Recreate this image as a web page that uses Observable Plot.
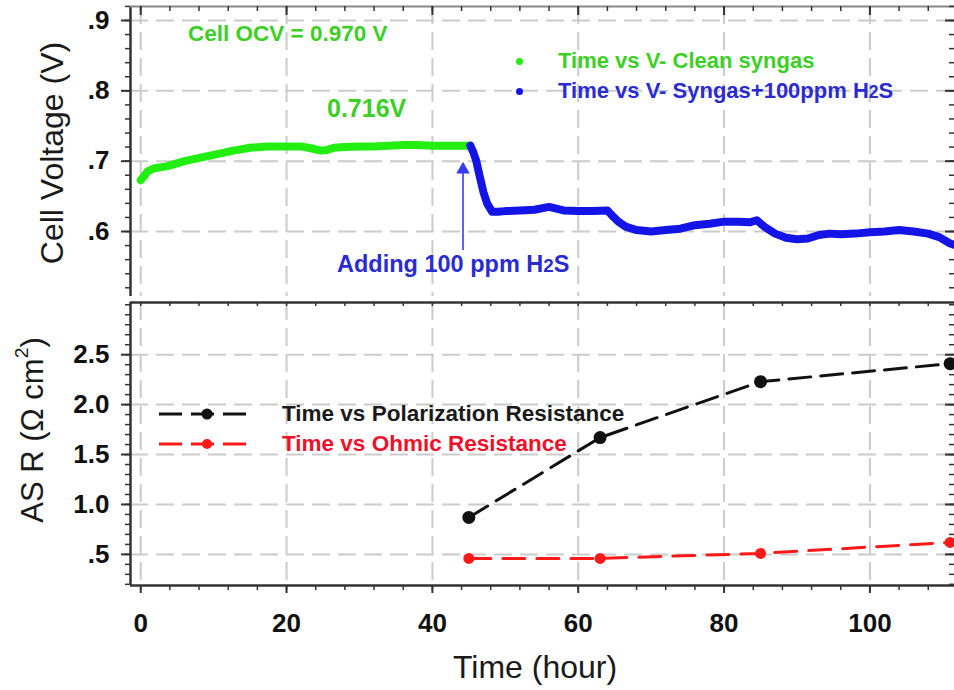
<!DOCTYPE html>
<html>
<head>
<meta charset="utf-8">
<script src="https://cdn.jsdelivr.net/npm/d3@7"></script>
<script src="https://cdn.jsdelivr.net/npm/@observablehq/plot@0.6"></script>
<style>
  html, body { margin: 0; padding: 0; background: #fff; }
  #wrap { position: relative; width: 954px; height: 690px; overflow: hidden; font-family: "Liberation Sans", Arial, sans-serif; }
  #topPanel, #botPanel { position: absolute; left: 0; }
  #topPanel { top: 0; }
  #botPanel { top: 300px; }
  .lbl { position: absolute; white-space: nowrap; line-height: 1; }
  .ann { font-weight: bold; font-size: 22px; transform: translateY(-50%); }
  .axl { font-size: 31px; color: #1a1a1a; transform: translate(-50%, -50%) rotate(-90deg); }
  .sub { font-size: 0.8em; }
  svg.leg { position: absolute; overflow: visible; }
</style>
</head>
<body>
<div id="wrap">
  <div id="topPanel"></div>
  <div id="botPanel"></div>
</div>
<script>
// ---------- Data ----------
const h2sTime = 44.2; // time when 100 ppm H2S was added (hour)

// Clean syngas (time in hours, cell voltage in V)
const cleanTime = [0, 0.5, 0.9, 1.9, 3.7, 6, 8.2, 10.5, 12.7, 15, 17.4, 19.5, 21.9, 23.5, 24.7, 25.6, 26.5, 28, 30, 32, 34, 36, 38, 40, 42, 44, 45.2];
const cleanV    = [0.673, 0.679, 0.685, 0.690, 0.693, 0.700, 0.705, 0.710, 0.715, 0.719, 0.721, 0.721, 0.721, 0.718, 0.715, 0.716, 0.719, 0.720, 0.721, 0.721, 0.722, 0.723, 0.723, 0.722, 0.722, 0.722, 0.722];

// Syngas + 100 ppm H2S
const h2sTimeSeries = [45.2, 45.6, 46.0, 46.5, 47.0, 47.5, 48.2, 49, 50, 52, 54, 56, 58, 60, 62, 64, 64.8, 65.5, 66.5, 68, 70, 72, 74, 76, 78, 80, 82, 83.5, 84.5, 85.5, 87, 88.5, 90, 91.5, 93, 94.5, 96, 98, 100, 102, 104, 106, 108, 109.5, 111, 111.6];
const h2sV          = [0.722, 0.713, 0.701, 0.678, 0.656, 0.640, 0.628, 0.628, 0.629, 0.630, 0.631, 0.635, 0.630, 0.629, 0.629, 0.630, 0.621, 0.614, 0.607, 0.602, 0.600, 0.602, 0.604, 0.609, 0.611, 0.614, 0.614, 0.613, 0.616, 0.607, 0.597, 0.591, 0.589, 0.590, 0.595, 0.597, 0.596, 0.597, 0.599, 0.600, 0.602, 0.600, 0.597, 0.592, 0.583, 0.581];

// Area specific resistance (ohm cm2)
const resTime = [45, 63, 85, 111];
const polR    = [0.87, 1.67, 2.23, 2.41];
const ohmR    = [0.46, 0.46, 0.51, 0.62];

// Tick values
const xMajor = [0, 20, 40, 60, 80, 100];
const xMinor = d3.range(0, 112, 4);
const vMajor = [0.6, 0.7, 0.8, 0.9];
const vMinor = d3.range(0.52, 0.921, 0.02);
const rMajor = [0.5, 1.0, 1.5, 2.0, 2.5];
const rMinor = d3.range(0.2, 3.01, 0.1);

// ---------- Build tables ----------
const cleanData = cleanTime.map((t, i) => ({t, v: cleanV[i]}));
const h2sData = h2sTimeSeries.map((t, i) => ({t, v: h2sV[i]}));
const polData = resTime.map((t, i) => ({t, r: polR[i]}));
const ohmData = resTime.map((t, i) => ({t, r: ohmR[i]}));

const fmt = d => d.toFixed(1).replace(/^0/, "");
const xDom = [-1.4, 111.6];
const vDom = [0.5076, 0.9199];
const rDom = [0.1884, 3.0226];

const W = 954, ML = 130, MR = 0;
const plotW = W - ML - MR;
const GREEN = "#22ee11", BLUE = "#1414e6", RED = "#ff1a1a";
const gridOpt = {stroke: "#cbcbcb", strokeOpacity: 1, strokeWidth: 2, strokeDasharray: "18,8"};
const axisStyle = {fontFamily: "'Liberation Sans', Arial, sans-serif", fontSize: "26px", fontWeight: "bold", color: "#111", background: "transparent", overflow: "visible"};

// ---------- Top panel ----------
const topH = 300, topMT = 6, topMB = 4;
const topPlotH = topH - topMT - topMB;
const topChart = Plot.plot({
  width: W, height: topH,
  marginTop: topMT, marginBottom: topMB, marginLeft: ML, marginRight: MR,
  x: {domain: xDom, axis: null},
  y: {domain: vDom},
  style: axisStyle,
  marks: [
    Plot.gridX(xMajor, gridOpt),
    Plot.gridY(vMajor, gridOpt),
    Plot.ruleX([xDom[0]], {stroke: "#333", strokeWidth: 2.5}),
    Plot.ruleY([vDom[1]], {stroke: "#888", strokeWidth: 2}),
    Plot.axisY({ticks: vMajor, tickSize: 9, tickPadding: 12, tickFormat: fmt, stroke: "#333", strokeWidth: 2, label: null}),
    Plot.axisY({ticks: vMinor, tickSize: 5, fill: "none", stroke: "#333", strokeWidth: 1.5, label: null}),
    Plot.tickX(xMajor, {x: d => d, insetBottom: topPlotH - 9, stroke: "#333", strokeWidth: 2}),
    Plot.tickX(xMinor, {x: d => d, insetBottom: topPlotH - 5, stroke: "#333", strokeWidth: 1.5}),
    Plot.tickY(vMajor, {y: d => d, insetLeft: plotW - 9, stroke: "#333", strokeWidth: 2}),
    Plot.tickY(vMinor, {y: d => d, insetLeft: plotW - 5, stroke: "#333", strokeWidth: 1.5}),
    Plot.line(cleanData, {x: "t", y: "v", stroke: GREEN, strokeWidth: 8, strokeLinejoin: "round", strokeLinecap: "round"}),
    Plot.line(h2sData, {x: "t", y: "v", stroke: BLUE, strokeWidth: 8, strokeLinejoin: "round", strokeLinecap: "round"}),
    Plot.ruleX([h2sTime], {y1: 0.573, y2: 0.690, stroke: "#3a3af0", strokeWidth: 1.6}),
    Plot.dot([h2sTime], {x: d => d, y: 0.688, symbol: "triangle", r: 5, fill: "#3a3af0", stroke: "none"})
  ]
});
document.getElementById("topPanel").appendChild(topChart);

// ---------- Bottom panel ----------
const botH = 390, botMT = 2, botMB = 105;
const botPlotH = botH - botMT - botMB;
const botChart = Plot.plot({
  width: W, height: botH,
  marginTop: botMT, marginBottom: botMB, marginLeft: ML, marginRight: MR,
  x: {domain: xDom},
  y: {domain: rDom},
  style: axisStyle,
  marks: [
    Plot.gridX(xMajor, gridOpt),
    Plot.gridY(rMajor, gridOpt),
    Plot.ruleX([xDom[0]], {stroke: "#333", strokeWidth: 2.5}),
    Plot.ruleY([rDom[0]], {stroke: "#333", strokeWidth: 2.5}),
    Plot.ruleY([rDom[1]], {stroke: "#333", strokeWidth: 2.5}),
    Plot.axisY({ticks: rMajor, tickSize: 9, tickPadding: 12, tickFormat: fmt, stroke: "#333", strokeWidth: 2, label: null}),
    Plot.axisY({ticks: rMinor, tickSize: 5, fill: "none", stroke: "#333", strokeWidth: 1.5, label: null}),
    Plot.axisX({ticks: xMajor, tickSize: 8, tickPadding: 20, stroke: "#333", strokeWidth: 2, label: null}),
    Plot.axisX({ticks: xMinor, tickSize: 5, fill: "none", stroke: "#333", strokeWidth: 1.5, label: null}),
    Plot.tickX(xMinor, {x: d => d, insetBottom: botPlotH - 4, stroke: "#333", strokeWidth: 1.5}),
    Plot.tickY(rMajor, {y: d => d, insetLeft: plotW - 9, stroke: "#333", strokeWidth: 2}),
    Plot.tickY(rMinor, {y: d => d, insetLeft: plotW - 5, stroke: "#333", strokeWidth: 1.5}),
    Plot.line(polData, {x: "t", y: "r", stroke: "#111", strokeWidth: 3, strokeDasharray: "22,10"}),
    Plot.dot(polData, {x: "t", y: "r", r: 6.5, fill: "#111", stroke: "none"}),
    Plot.line(ohmData, {x: "t", y: "r", stroke: RED, strokeWidth: 3, strokeDasharray: "22,12"}),
    Plot.dot(ohmData, {x: "t", y: "r", r: 5.5, fill: RED, stroke: "none"})
  ]
});
document.getElementById("botPanel").appendChild(botChart);

// ---------- Text, legends and axis titles ----------
const wrap = document.getElementById("wrap");
function addLabel(html, cls, css) {
  const d = document.createElement("div");
  d.className = "lbl " + cls;
  d.innerHTML = html;
  Object.assign(d.style, css);
  wrap.appendChild(d);
  return d;
}
function addSvg(inner, css) {
  const ns = "http://www.w3.org/2000/svg";
  const s = document.createElementNS(ns, "svg");
  s.setAttribute("class", "leg");
  s.setAttribute("width", css.width);
  s.setAttribute("height", css.height);
  s.style.left = css.left + "px";
  s.style.top = css.top + "px";
  s.innerHTML = inner;
  wrap.appendChild(s);
}

// axis titles
addLabel("Cell Voltage (V)", "axl", {left: "52px", top: "153px", fontSize: "32px"});
addLabel("AS R (&Omega; cm<sup style='font-size:0.62em;vertical-align:0.75em;line-height:0'>2</sup>)", "axl", {left: "32px", top: "430px"});
addLabel("Time (hour)", "", {left: "535px", top: "667px", fontSize: "32px", color: "#1a1a1a", transform: "translate(-50%,-50%)"});

// annotations
addLabel("Cell OCV = 0.970 V", "ann", {left: "188px", top: "34px", color: "#3ccf26", fontSize: "22.5px"});
addLabel("0.716V", "ann", {left: "327px", top: "108px", color: "#3ccf26", fontSize: "25px"});
addLabel("Adding 100 ppm H<span class='sub'>2</span>S", "ann", {left: "337px", top: "265px", color: "#2b2bd2", fontSize: "23.5px"});

// top legend
addSvg(`<circle cx="3.5" cy="3.5" r="3.5" fill="${GREEN}"/>`, {left: 516, top: 58, width: 7, height: 7});
addSvg(`<circle cx="3.5" cy="3.5" r="3.5" fill="${BLUE}"/>`, {left: 516, top: 88, width: 7, height: 7});
addLabel("Time vs V- Clean syngas", "ann", {left: "558px", top: "61px", color: "#3ccf26", fontSize: "22px"});
addLabel("Time vs V- Syngas+100ppm H<span class='sub'>2</span>S", "ann", {left: "558px", top: "91px", color: "#2b2bd2", fontSize: "22px"});

// bottom legend
addSvg(`<line x1="0" y1="6" x2="90" y2="6" stroke="#111" stroke-width="3" stroke-dasharray="23,9"/><circle cx="48" cy="6" r="5.5" fill="#111"/>`, {left: 159, top: 408, width: 90, height: 12});
addSvg(`<line x1="0" y1="6" x2="90" y2="6" stroke="${RED}" stroke-width="3" stroke-dasharray="23,9"/><circle cx="48" cy="6" r="5" fill="${RED}"/>`, {left: 159, top: 438, width: 90, height: 12});
addLabel("Time vs Polarization Resistance", "ann", {left: "282px", top: "414px", color: "#1a1a1a", fontSize: "22.5px"});
addLabel("Time vs Ohmic Resistance", "ann", {left: "282px", top: "444px", color: "#f0102a", fontSize: "22.5px"});
</script>
</body>
</html>
